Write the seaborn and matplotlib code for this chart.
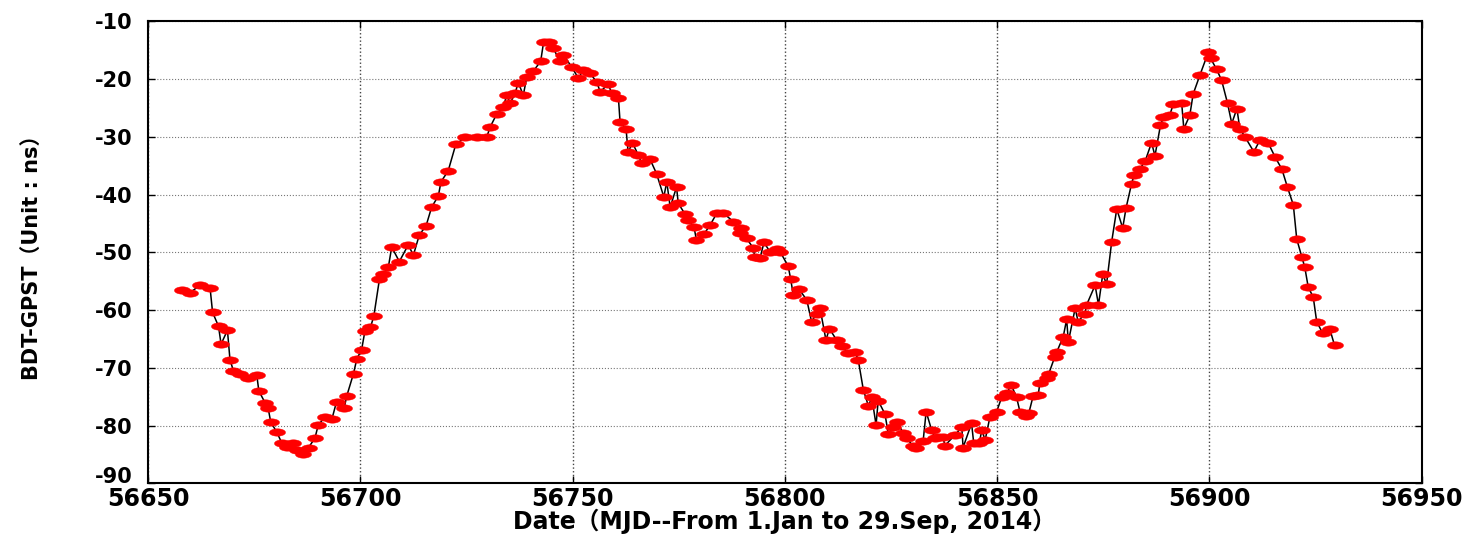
import numpy as np
import matplotlib
matplotlib.use('Agg')
import matplotlib.pyplot as plt
import seaborn as sns
import pandas as pd
from matplotlib.path import Path
from matplotlib.transforms import ScaledTranslation

# ---- data ----
mjd = [56657.9, 56659.9, 56662.2, 56664.6, 56665.2, 56666.6, 56667.2, 56668.7, 56669.3, 56670.1,
       56671.7, 56673.6, 56675.6, 56676.1, 56677.6, 56678.3, 56678.9, 56680.3, 56681.5, 56682.7,
       56684.2, 56685.0, 56686.6, 56687.8, 56689.3, 56690.1, 56691.7, 56693.3, 56694.4, 56696.2,
       56696.8, 56698.4, 56699.2, 56700.3, 56701.1, 56702.4, 56703.2, 56704.5, 56705.3, 56706.6,
       56707.4, 56709.2, 56711.3, 56712.5, 56713.9, 56715.5, 56716.8, 56718.4, 56719.0, 56720.7,
       56722.5, 56724.7, 56727.4, 56729.8, 56730.6, 56732.1, 56733.7, 56734.5, 56735.3, 56736.5,
       56737.2, 56738.4, 56739.2, 56740.8, 56742.5, 56743.2, 56744.4, 56745.5, 56747.0, 56747.8,
       56749.8, 56751.4, 56752.5, 56754.1, 56755.7, 56756.5, 56758.4, 56759.2, 56760.8, 56761.2,
       56762.6, 56763.1, 56764.1, 56765.5, 56766.3, 56768.2, 56769.8, 56771.5, 56772.2, 56773.0,
       56774.5, 56774.9, 56776.5, 56777.1, 56778.6, 56779.2, 56781.0, 56782.4, 56784.0, 56785.5,
       56787.9, 56789.4, 56789.8, 56791.0, 56792.6, 56792.9, 56794.2, 56795.1, 56796.5, 56798.1,
       56798.9, 56800.8, 56801.4, 56802.0, 56803.4, 56805.2, 56806.3, 56807.5, 56808.3, 56809.7,
       56810.5, 56812.2, 56813.4, 56815.0, 56816.5, 56817.3, 56818.5, 56819.7, 56820.5, 56821.5,
       56822.0, 56823.6, 56824.4, 56825.6, 56826.4, 56827.9, 56828.7, 56830.2, 56830.9, 56832.6,
       56833.3, 56834.6, 56835.4, 56836.2, 56837.3, 56837.7, 56840.1, 56841.7, 56842.0, 56844.0,
       56844.5, 56845.8, 56846.4, 56847.2, 56848.3, 56849.9, 56851.1, 56852.4, 56853.3, 56854.6,
       56855.4, 56856.8, 56857.5, 56858.5, 56859.7, 56860.1, 56861.7, 56862.2, 56863.6, 56864.1,
       56865.6, 56866.4, 56866.8, 56868.4, 56869.1, 56870.7, 56871.1, 56873.1, 56873.9, 56874.9,
       56875.8, 56877.0, 56878.2, 56879.6, 56880.4, 56881.7, 56882.3, 56883.7, 56884.9, 56886.4,
       56887.2, 56888.5, 56889.2, 56890.7, 56891.5, 56893.5, 56894.0, 56895.4, 56896.2, 56897.8,
       56899.8, 56900.3, 56901.7, 56902.9, 56904.3, 56905.3, 56906.5, 56907.2, 56908.4, 56910.5,
       56911.9, 56913.9, 56915.5, 56917.1, 56918.4, 56919.8, 56920.6, 56921.8, 56922.5, 56923.3,
       56924.5, 56925.3, 56926.7, 56928.4, 56929.5]

bdt_gpst = [-56.5, -57.0, -55.7, -56.1, -60.4, -62.8, -65.9, -63.5, -68.6, -70.5,
            -71.0, -71.8, -71.2, -74.0, -76.1, -77.0, -79.4, -81.1, -83.0, -83.7,
            -83.1, -84.2, -85.0, -83.8, -82.2, -79.9, -78.5, -78.9, -75.9, -77.0,
            -74.9, -71.0, -68.4, -66.9, -63.6, -63.0, -61.0, -54.7, -53.8, -52.6,
            -49.1, -51.6, -48.7, -50.5, -47.0, -45.4, -42.2, -40.2, -37.8, -35.9,
            -31.3, -30.1, -30.1, -30.0, -28.3, -26.1, -24.8, -22.8, -24.2, -22.4,
            -20.6, -22.8, -19.7, -18.6, -16.9, -13.5, -13.5, -14.7, -16.9, -15.8,
            -17.9, -19.9, -18.4, -19.0, -20.5, -22.2, -20.9, -22.4, -23.2, -27.5,
            -28.6, -32.7, -31.0, -33.2, -34.6, -33.8, -36.4, -40.4, -37.8, -42.2,
            -38.7, -41.5, -43.4, -44.4, -45.6, -47.9, -46.8, -45.3, -43.2, -43.2,
            -44.7, -46.7, -45.8, -47.6, -49.3, -50.8, -50.9, -48.3, -49.9, -49.5,
            -49.9, -52.4, -54.7, -57.4, -56.4, -58.3, -62.0, -60.6, -59.7, -65.2,
            -63.2, -65.2, -66.3, -67.5, -67.2, -68.6, -73.8, -76.6, -75.1, -79.9,
            -75.7, -78.0, -81.5, -80.2, -79.3, -81.3, -82.2, -83.5, -83.9, -82.6,
            -77.6, -80.8, -82.2, -81.9, -82.0, -83.5, -81.6, -80.3, -83.8, -79.6,
            -83.0, -83.1, -80.8, -82.5, -78.6, -77.6, -75.1, -74.3, -72.9, -75.1,
            -77.6, -78.3, -77.8, -74.9, -74.7, -72.6, -71.8, -71.0, -68.1, -67.2,
            -64.6, -61.6, -65.5, -59.7, -62.0, -60.6, -59.1, -55.7, -59.1, -53.8,
            -55.5, -48.2, -42.5, -45.8, -42.3, -38.1, -36.6, -35.5, -34.2, -31.0,
            -33.3, -28.0, -26.6, -26.2, -24.4, -24.2, -28.6, -26.3, -22.6, -19.3,
            -15.3, -16.4, -18.3, -20.2, -24.2, -27.7, -25.1, -28.6, -30.0, -32.6,
            -30.6, -31.1, -33.5, -35.6, -38.7, -41.8, -47.7, -50.8, -52.6, -56.0,
            -57.8, -62.0, -64.0, -63.3, -66.1]

x_ticks = [56650, 56700, 56750, 56800, 56850, 56900, 56950]
y_ticks = [-90, -80, -70, -60, -50, -40, -30, -20, -10]
x_label = "Date（MJD--From 1.Jan to 29.Sep, 2014）"
y_label = "BDT-GPST（Unit : ns）"

sns.set_theme(style='white')
plt.rcParams['font.family'] = ['DejaVu Sans', 'Noto Sans CJK SC']

df = pd.DataFrame({'MJD': mjd, 'BDT-GPST': bdt_gpst})

fig = plt.figure(figsize=(14.82, 5.35), dpi=100)
ax = fig.add_axes([0.0999, 0.0966, 0.8593, 0.8636])

# horizontally elongated dot (daily samples form short red dashes)
t = np.linspace(0, 2 * np.pi, 41)
dash = Path(np.column_stack([np.cos(t), 0.46 * np.sin(t)]), closed=True)

sns.lineplot(data=df, x='MJD', y='BDT-GPST', color='black', lw=1.1,
             sort=False, estimator=None, ax=ax, zorder=2)
sns.scatterplot(data=df, x='MJD', y='BDT-GPST', marker=dash, s=135,
                color='red', edgecolor='red', linewidth=0.3, ax=ax, zorder=3)

ax.set_xlim(56650, 56950)
ax.set_ylim(-90, -10)
ax.set_xticks(x_ticks)
ax.set_yticks(y_ticks)
ax.set_xticklabels([str(v) for v in x_ticks], fontsize=17, fontweight='bold')
ax.set_yticklabels([str(v) for v in y_ticks], fontsize=15, fontweight='bold')
ax.tick_params(direction='in', length=5, width=1, top=True, right=True,
               bottom=True, left=True, colors='black', labelcolor='black')
ax.tick_params(axis='x', pad=3)
ax.tick_params(axis='y', pad=11)
# lowest y label sits a little higher, as in the reference
lbl = ax.get_yticklabels()[0]
lbl.set_transform(lbl.get_transform() + ScaledTranslation(0, 6 / 72, fig.dpi_scale_trans))

ax.xaxis.grid(True, linestyle=':', color='#444444', linewidth=1.0)
ax.yaxis.grid(True, linestyle=':', color='#777777', linewidth=0.8)
ax.set_axisbelow(True)
for sp in ax.spines.values():
    sp.set_color('black')
    sp.set_linewidth(1.5)

ax.set_xlabel(x_label, fontsize=17, fontweight='bold', color='black')
ax.xaxis.label.set_va('center')
ax.xaxis.set_label_coords(0.5, -0.082)
ax.set_ylabel(y_label, fontsize=15, fontweight='bold', color='black')
ax.yaxis.set_label_coords(-0.083, 0.5)

fig.savefig('out.png', dpi=100, facecolor='white')
